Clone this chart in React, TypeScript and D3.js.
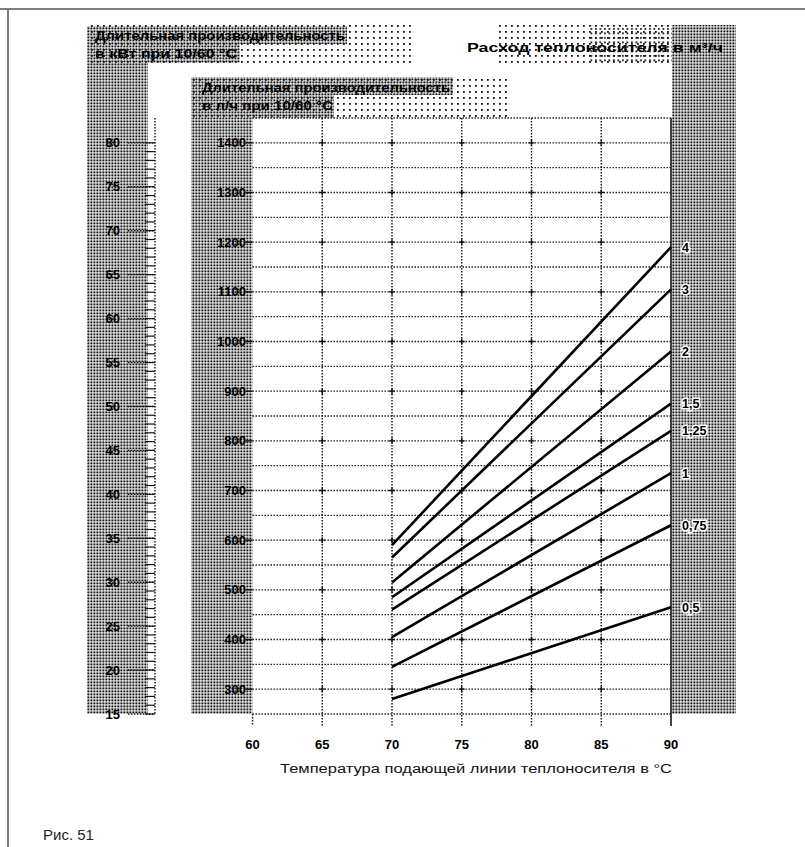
import React from "react";
import * as d3 from "d3";

const W = 805;
const H = 847;

// Data
const flowLabels = ["4", "3", "2", "1,5", "1,25", "1", "0,75", "0,5"];
const tempStart = 70;
const tempEnd = 90;
const outputAt70 = [590, 565, 515, 485, 460, 405, 345, 280]; // l/h at 70 °C
const outputAt90 = [1190, 1105, 980, 875, 820, 735, 630, 465]; // l/h at 90 °C

const xTicks = [60, 65, 70, 75, 80, 85, 90];
const lhTicks = [300, 400, 500, 600, 700, 800, 900, 1000, 1100, 1200, 1300, 1400];
const kwTicks = [15, 20, 25, 30, 35, 40, 45, 50, 55, 60, 65, 70, 75, 80];

const headerLeft = ["Длительная производительность", "в кВт при 10/60 °C"];
const headerMid = ["Длительная производительность", "в л/ч при 10/60 °C"];
const headerRight = "Расход теплоносителя в м³/ч";
const xTitle = "Температура подающей линии теплоносителя в °C";
const caption = "Рис. 51";

const FONT = "'Liberation Sans', Arial, Helvetica, sans-serif";

export default function App() {
  const x = d3.scaleLinear().domain([60, 90]).range([252.5, 671]);
  const y = d3.scaleLinear().domain([250, 1450]).range([714, 118]);
  const yKw = d3.scaleLinear().domain([15, 80]).range([y(250), y(1400)]);

  const gridH = d3.range(300, 1451, 50);
  const gridV = [65, 70, 75, 80, 85];
  const kwMinor = d3.range(15, 81, 1);

  const line = d3
    .line<[number, number]>()
    .x((d) => x(d[0]))
    .y((d) => y(d[1]));

  const dotted = { stroke: "#111", strokeWidth: 1.4, strokeDasharray: "1.4 1.6" };

  return (
    <svg width={W} height={H} style={{ display: "block", position: "absolute", left: 0, top: 0 }}>
      <defs>
        <pattern id="dense" width="3" height="3" patternUnits="userSpaceOnUse">
          <rect x="0.4" y="0.4" width="2" height="2" fill="#111" />
        </pattern>
        <pattern id="sparse" width="6" height="6" patternUnits="userSpaceOnUse">
          <rect x="1" y="1" width="1.8" height="1.8" fill="#111" />
        </pattern>
        <pattern id="medium" width="4.5" height="4.5" patternUnits="userSpaceOnUse">
          <rect x="1" y="1" width="1.8" height="1.8" fill="#111" />
        </pattern>
      </defs>
      <rect width={W} height={H} fill="#fff" />

      {/* frame */}
      <line x1={0} x2={W} y1={9} y2={9} stroke="#555" strokeWidth={1.5} />
      <line x1={8} x2={8} y1={9} y2={H} stroke="#555" strokeWidth={1.5} />

      {/* halftone panels */}
      <rect x={87} y={25} width={326} height={38} fill="url(#sparse)" />
      <rect x={87} y={26} width={260} height={18} fill="url(#dense)" />
      <rect x={87} y={44} width={153} height={19} fill="url(#dense)" />
      <rect x={87} y={63} width={61} height={651} fill="url(#dense)" />

      <rect x={191} y={76} width={316} height={42} fill="url(#sparse)" />
      <rect x={191} y={77} width={262} height={18} fill="url(#dense)" />
      <rect x={191} y={95} width={143} height={23} fill="url(#dense)" />
      <rect x={191} y={118} width={61.5} height={596} fill="url(#dense)" />

      <rect x={495} y={25} width={177} height={38} fill="url(#sparse)" />
      <rect x={590} y={25} width={82} height={38} fill="url(#medium)" />
      <rect x={672} y={25} width={64} height={689} fill="url(#dense)" />

      {/* header texts */}
      <g fontFamily={FONT} fontWeight="bold" fontSize={13} fill="#000">
        <text x={95} y={40} textLength={250} lengthAdjust="spacingAndGlyphs">{headerLeft[0]}</text>
        <text x={95} y={58} textLength={142} lengthAdjust="spacingAndGlyphs">{headerLeft[1]}</text>
        <text x={202} y={92} textLength={248} lengthAdjust="spacingAndGlyphs">{headerMid[0]}</text>
        <text x={202} y={110} textLength={131} lengthAdjust="spacingAndGlyphs">{headerMid[1]}</text>
        <text x={467} y={52} textLength={256} lengthAdjust="spacingAndGlyphs">{headerRight}</text>
      </g>

      {/* gridlines */}
      {gridH.map((v) => (
        <line key={"h" + v} x1={x(60)} x2={x(90)} y1={y(v)} y2={y(v)} {...dotted} />
      ))}
      {gridV.map((t) => (
        <line key={"v" + t} x1={x(t)} x2={x(t)} y1={y(1450)} y2={y(250) + 12} {...dotted} />
      ))}
      <line x1={x(60)} x2={x(60)} y1={y(250)} y2={y(250) + 12} {...dotted} />
      <line x1={x(60)} x2={x(90)} y1={y(250)} y2={y(250)} {...dotted} />
      <line x1={x(90)} x2={x(90)} y1={y(1450)} y2={y(250) + 12} stroke="#111" strokeWidth={1.6} />
      {/* intersection crosses */}
      {gridV.map((t) =>
        lhTicks.map((v) => (
          <path
            key={"c" + t + "-" + v}
            d={`M${x(t) - 3},${y(v)}h6M${x(t)},${y(v) - 3}v6`}
            stroke="#111"
            strokeWidth={1.4}
          />
        ))
      )}

      {/* l/h axis ticks */}
      {lhTicks.map((v) => (
        <line key={"lt" + v} x1={x(60) - 7} x2={x(60)} y1={y(v)} y2={y(v)} stroke="#111" strokeWidth={1.5} />
      ))}

      {/* kW axis */}
      <line x1={155} x2={155} y1={y(1450)} y2={yKw(15)} {...dotted} />
      {kwMinor.map((v) => (
        <line key={"km" + v} x1={145} x2={155} y1={yKw(v)} y2={yKw(v)} stroke="#111" strokeWidth={1.2} />
      ))}
      {kwTicks.map((v) => (
        <line key={"kM" + v} x1={128} x2={155} y1={yKw(v)} y2={yKw(v)} {...dotted} />
      ))}

      {/* tick labels */}
      <g fontFamily={FONT} fontWeight="bold" fontSize={13} fill="#000">
        {kwTicks.map((v) => (
          <text key={"kl" + v} x={120} y={yKw(v) + 4.5} textAnchor="end">
            {v}
          </text>
        ))}
        {lhTicks.map((v) => (
          <text key={"ll" + v} x={246} y={y(v) + 4.5} textAnchor="end">
            {v}
          </text>
        ))}
        {xTicks.map((t) => (
          <text key={"xl" + t} x={x(t)} y={749} textAnchor="middle">
            {t}
          </text>
        ))}
      </g>

      {/* series lines */}
      {flowLabels.map((lab, i) => (
        <path
          key={"s" + lab}
          d={line([
            [tempStart, outputAt70[i]],
            [tempEnd, outputAt90[i]],
          ]) || ""}
          fill="none"
          stroke="#000"
          strokeWidth={2.6}
        />
      ))}

      {/* series labels */}
      <g fontFamily={FONT} fontWeight="bold" fontSize={12.5} fill="#000">
        {flowLabels.map((lab, i) => (
          <text
            key={"sl" + lab}
            x={682}
            y={y(outputAt90[i]) + 4.5}
            stroke="#fff"
            strokeWidth={3}
            paintOrder="stroke"
          >
            {lab}
          </text>
        ))}
      </g>

      {/* axis title and caption */}
      <text x={280} y={773} fontFamily={FONT} fontSize={12.5} fill="#111" textLength={392} lengthAdjust="spacingAndGlyphs">
        {xTitle}
      </text>
      <text x={43} y={840} fontFamily={FONT} fontSize={15} fill="#222">
        {caption}
      </text>
    </svg>
  );
}
